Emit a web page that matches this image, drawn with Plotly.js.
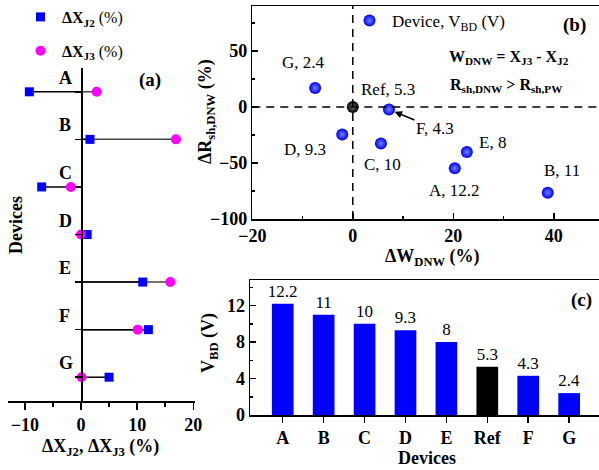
<!DOCTYPE html>
<html>
<head>
<meta charset="utf-8">
<script src="https://cdn.plot.ly/plotly-3.0.1.min.js"></script>
<style>html,body{margin:0;padding:0;background:#fff;overflow:hidden}</style>
</head>
<body>
<div id="chart" style="width:599px;height:470px"></div>
<script>
// ---------- data ----------
// panel (a)
const rowsA = ['A', 'B', 'C', 'D', 'E', 'F', 'G'];
const dXJ2 = [-9.2, 1.6, -7.0, 1.1, 11.0, 12.0, 5.0];
const dXJ3 = [2.8, 16.9, -1.8, 0.0, 15.9, 10.1, 0.1];
// panels (b) and (c)
const devices = ['A', 'B', 'C', 'D', 'E', 'Ref', 'F', 'G'];
const vbd = [12.2, 11, 10, 9.3, 8, 5.3, 4.3, 2.4];
const dW = [20.3, 38.8, 5.6, -2.1, 22.7, 0, 7.2, -7.5];
const dR = [-54.8, -76.5, -32.6, -24.6, -40.3, 0, -2.3, 16.9];

// ---------- styling ----------
const FONT = 'Liberation Serif, Times New Roman, serif';
const W = 599, H = 470;
const px = v => v / W;
const py = v => 1 - v / H;
const BLUE = '#0000ff';

// label offsets (pixels) for panel (b)
const labelOff = {
  A: [0, -22], B: [14, 22], C: [2, -21], D: [-37, -15], E: [26, 10],
  Ref: [35, 17], G: [-12, 25]
};

// drop lines for panel (a)
function dropLines(vals) {
  const x = [], y = [];
  vals.forEach((v, i) => { x.push(0, v, null); y.push(rowsA[i], rowsA[i], null); });
  return {x, y};
}
const dl3 = dropLines(dXJ3), dl2 = dropLines(dXJ2);

const traces = [];
traces.push({x: dl3.x, y: dl3.y, mode: 'lines', line: {color: '#444', width: 1.5},
  showlegend: false, hoverinfo: 'skip', xaxis: 'x', yaxis: 'y'});
traces.push({x: dl2.x, y: dl2.y, mode: 'lines', line: {color: '#000', width: 1.5},
  showlegend: false, hoverinfo: 'skip', xaxis: 'x', yaxis: 'y'});
traces.push({x: dXJ2, y: rowsA, mode: 'markers', name: '<b>ΔX<sub>J2</sub></b> (%)',
  marker: {symbol: 'square', size: 9, color: BLUE}, legendgroup: 'g1', xaxis: 'x', yaxis: 'y'});
traces.push({x: dXJ3, y: rowsA, mode: 'markers', name: '<b>ΔX<sub>J3</sub></b> (%)',
  marker: {symbol: 'circle', size: 10, color: '#ff00ff'}, legendgroup: 'g2', xaxis: 'x', yaxis: 'y'});

// panel (b)
const isDev = devices.map(d => d !== 'Ref');
traces.push({
  x: dW.filter((_, i) => isDev[i]), y: dR.filter((_, i) => isDev[i]),
  mode: 'markers', name: 'Device, V<sub>BD</sub> (V)', legend: 'legend2',
  marker: {size: 12, color: '#0000f0', gradient: {type: 'radial', color: '#6f80ff'}},
  xaxis: 'x2', yaxis: 'y2'
});
traces.push({
  x: dW.filter((_, i) => !isDev[i]), y: dR.filter((_, i) => !isDev[i]),
  mode: 'markers', showlegend: false,
  marker: {size: 12, color: '#000000', gradient: {type: 'radial', color: '#777777'}},
  xaxis: 'x2', yaxis: 'y2'
});

// panel (c)
traces.push({
  type: 'bar', x: devices, y: vbd, showlegend: false,
  marker: {color: devices.map(d => d === 'Ref' ? '#000000' : BLUE)},
  text: vbd.map(String), textposition: 'outside', cliponaxis: false, constraintext: 'none',
  textfont: {family: FONT, size: 17, color: '#000'},
  xaxis: 'x3', yaxis: 'y3'
});

const tickFont = {family: FONT, size: 18, color: '#000', weight: 'bold'};
const axBase = {showgrid: false, zeroline: false, linecolor: '#000', linewidth: 1.5,
  tickcolor: '#000', tickwidth: 1.5, tickfont: tickFont, fixedrange: true};

const annotations = [];
// panel (a) row labels
rowsA.forEach(r => annotations.push({xref: 'paper', yref: 'y', x: px(57), y: r, yshift: 14,
  text: '<b>' + r + '</b>', showarrow: false, font: {family: FONT, size: 18, color: '#000'}}));
// panel (b) point labels
devices.forEach((d, i) => {
  const t = d + ', ' + vbd[i];
  if (d === 'F') {
    annotations.push({xref: 'x2', yref: 'y2', x: dW[i], y: dR[i], text: t, showarrow: true,
      ax: 46, ay: 19, arrowhead: 2, arrowsize: 1, arrowwidth: 1.5, arrowcolor: '#000', standoff: 6,
      font: {family: FONT, size: 17, color: '#000'}});
  } else {
    const o = labelOff[d];
    annotations.push({xref: 'x2', yref: 'y2', x: dW[i], y: dR[i], xshift: o[0], yshift: o[1],
      text: t, showarrow: false, font: {family: FONT, size: 17, color: '#000'}});
  }
});
const tb = (x, y, text, size, angle) => ({xref: 'paper', yref: 'paper', x: px(x), y: py(y),
  text: text, showarrow: false, textangle: angle || 0, xanchor: 'center', yanchor: 'middle',
  font: {family: FONT, size: size, color: '#000'}});
annotations.push(tb(150, 80, '<b>(a)</b>', 19));
annotations.push(tb(574, 25, '<b>(b)</b>', 19));
annotations.push(tb(581, 300, '<b>(c)</b>', 19));
annotations.push(tb(509, 58, '<b>W<sub>DNW</sub> = X<sub>J3</sub> - X<sub>J2</sub></b>', 16));
annotations.push(tb(507, 86, '<b>R<sub>sh,DNW</sub> > R<sub>sh,PW</sub></b>', 16));
// axis titles
annotations.push(tb(100, 447, '<b>ΔX<sub>J2</sub>, ΔX<sub>J3</sub> (%)</b>', 18));
annotations.push(tb(16, 225, '<b>Devices</b>', 18, -90));
annotations.push(tb(432, 257, '<b>ΔW<sub>DNW</sub> (%)</b>', 18));
annotations.push(tb(206, 112, '<b>ΔR<sub>sh,DNW</sub> (%)</b>', 18, -90));
annotations.push(tb(427, 458, '<b>Devices</b>', 18));
annotations.push(tb(209, 343, '<b>V<sub>BD</sub> (V)</b>', 18, -90));

const shapes = [
  {type: 'line', xref: 'x2', yref: 'y2 domain', x0: 0, x1: 0, y0: 0, y1: 1,
   line: {color: '#000', width: 1.5, dash: '8px,6px'}},
  {type: 'line', xref: 'x2 domain', yref: 'y2', x0: 0, x1: 1, y0: 0, y1: 0,
   line: {color: '#000', width: 1.5, dash: '8px,6px'}}
];

const zeroPos = px(81);
const layout = {
  width: W, height: H,
  margin: {l: 0, r: 0, t: 0, b: 0},
  paper_bgcolor: '#fff', plot_bgcolor: 'rgba(0,0,0,0)',
  font: {family: FONT, color: '#000'},
  showlegend: true,
  legend: {x: px(19), y: py(0), xanchor: 'left', yanchor: 'top', traceorder: 'grouped',
    tracegroupgap: 10, itemwidth: 33, bgcolor: 'rgba(0,0,0,0)',
    font: {family: FONT, size: 16, color: '#000'}},
  legend2: {x: px(347), y: py(3), xanchor: 'left', yanchor: 'top', itemwidth: 35,
    bgcolor: 'rgba(0,0,0,0)', font: {family: FONT, size: 17, color: '#000'}},
  xaxis: Object.assign({}, axBase, {domain: [px(8), px(195)], range: [-13, 20.3], anchor: 'y',
    showline: true, dtick: 10, ticks: 'outside', ticklen: 7,
    minor: {dtick: 5, ticks: 'outside', ticklen: 4, tickcolor: '#000', tickwidth: 1.5}}),
  yaxis: Object.assign({}, axBase, {domain: [py(401), py(68)], type: 'category',
    categoryarray: rowsA, range: [6.5, -0.5], anchor: 'free', position: zeroPos,
    showline: true, ticks: 'outside', ticklen: 6, showticklabels: false}),
  yaxis4: Object.assign({}, axBase, {overlaying: 'y', range: [6.5, -0.5], anchor: 'free',
    position: zeroPos, side: 'right', tickmode: 'array', tickvals: rowsA.map((_, i) => i),
    showline: false, ticks: 'outside', ticklen: 6, showticklabels: false}),
  xaxis2: Object.assign({}, axBase, {domain: [px(252.3), 1], range: [-20, 49], anchor: 'y2',
    showline: true, mirror: true, dtick: 20, ticks: 'inside', ticklen: 6,
    minor: {dtick: 10, ticks: 'inside', ticklen: 3, tickcolor: '#000', tickwidth: 1.5}}),
  yaxis2: Object.assign({}, axBase, {domain: [py(219), py(6)], range: [-100, 90], anchor: 'x2',
    showline: true, dtick: 50, ticks: 'inside', ticklen: 6,
    minor: {dtick: 25, ticks: 'inside', ticklen: 3, tickcolor: '#000', tickwidth: 1.5}}),
  xaxis3: Object.assign({}, axBase, {domain: [px(250), 1], type: 'category', categoryarray: devices,
    range: [-0.8, 7.73], anchor: 'y3', showline: true, mirror: true, ticks: 'outside', ticklen: 6}),
  yaxis3: Object.assign({}, axBase, {domain: [py(415), py(280)], range: [0, 14.8], anchor: 'x3',
    showline: true, dtick: 4, ticks: 'inside', ticklen: 6,
    minor: {dtick: 2, ticks: 'inside', ticklen: 3, tickcolor: '#000', tickwidth: 1.5}}),
  bargap: 0.47,
  annotations: annotations,
  shapes: shapes
};

Plotly.newPlot('chart', traces, layout, {displayModeBar: false, staticPlot: true});
</script>
</body>
</html>
